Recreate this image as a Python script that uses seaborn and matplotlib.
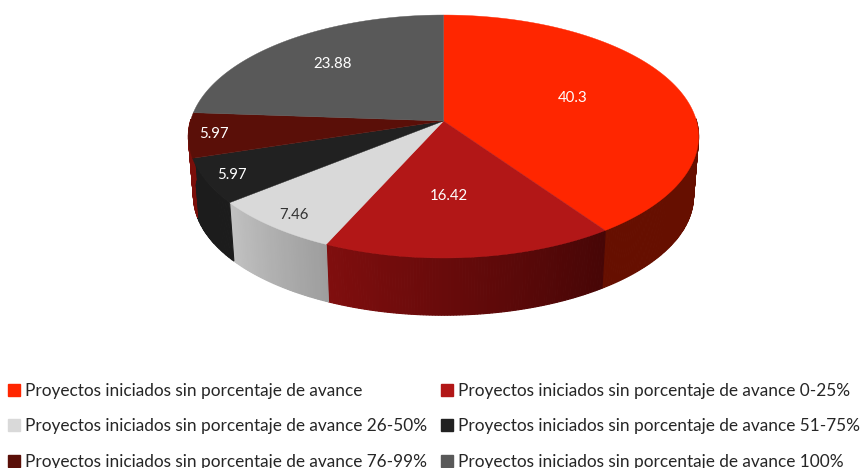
import numpy as np
import matplotlib
matplotlib.use("Agg")
import matplotlib.pyplot as plt
from matplotlib.patches import Patch
import seaborn as sns

labels = ["Proyectos iniciados sin porcentaje de avance",
          "Proyectos iniciados sin porcentaje de avance 0-25%",
          "Proyectos iniciados sin porcentaje de avance 26-50%",
          "Proyectos iniciados sin porcentaje de avance 51-75%",
          "Proyectos iniciados sin porcentaje de avance 76-99%",
          "Proyectos iniciados sin porcentaje de avance 100%"]
values = [40.3, 16.42, 7.46, 5.97, 5.97, 23.88]

top_colors = ["#FF2600", "#B21717", "#D9D9D9", "#212121", "#5A0F08", "#595959"]
wall_start = ["#660F00", "#800E0E", "#C2C2C2", "#1C1C1C", "#7A0F0A", "#3A3A3A"]
wall_end = ["#660F00", "#470606", "#9E9E9E", "#1C1C1C", "#7A0F0A", "#3A3A3A"]
label_colors = ["white", "white", "#333333", "white", "white", "white"]
label_px = [(573, 98), (449, 196), (294, 215), (232, 175), (214, 134), (333, 64)]

sns.set_theme(style="white")
plt.rcParams["font.family"] = ["Lato", "DejaVu Sans"]

fig = plt.figure(figsize=(8.62, 4.68), dpi=100)
ax = fig.add_axes([0, 0, 1, 1])
ax.set_xlim(0, 862)
ax.set_ylim(468, 0)
ax.axis("off")


def project(theta, r=1.0, y0=121.0, scale=1.0):
    u, v = r * np.sin(theta), r * np.cos(theta)
    d = 1 + 0.1276 * v
    return 443.5 + scale * 253 * u / d, y0 - scale * 119.5 * v / d


def mix(a, b, t):
    a, b = np.array(matplotlib.colors.to_rgb(a)), np.array(matplotlib.colors.to_rgb(b))
    return a + (b - a) * t


edges = np.radians(np.cumsum([0] + values) * 3.6)
BOTTOM = dict(y0=181.0, scale=0.98)

# side walls, near half only, in overlapping strips so the silhouette stays tangent
for i in sorted(range(len(values)), key=lambda k: -np.cos((edges[k] + edges[k + 1]) / 2)):
    cuts = np.linspace(edges[i], edges[i + 1], max(int(values[i] * 6), 4))
    for a, b in zip(cuts[:-1], cuts[1:]):
        if np.cos((a + b) / 2) > 0.02:
            continue
        t = (a - edges[i]) / (edges[i + 1] - edges[i])
        xa, ya = project(a)
        xb, yb = project(b)
        xc, yc = project(b, **BOTTOM)
        xd, yd = project(a, **BOTTOM)
        ax.fill([xa, xb, xc, xd], [ya, yb, yc, yd], color=mix(wall_end[i], wall_start[i], t),
                lw=0.8, zorder=2 + 0.001 * i)

# top face
for i in range(len(values)):
    th = np.linspace(edges[i], edges[i + 1], 120)
    x, y = project(th)
    ax.fill(np.r_[443.5, x], np.r_[121, y], color=top_colors[i], lw=0.3, zorder=3)
    ax.text(*label_px[i], f"{values[i]:g}", color=label_colors[i], fontsize=10.8,
            ha="center", va="center", zorder=4)

order = [0, 2, 4, 1, 3, 5]
handles = [Patch(color=top_colors[i], label=labels[i]) for i in order]
ax.legend(handles=handles, ncol=2, loc="upper left", bbox_to_anchor=(8 / 862, 1 - 383 / 468),
          bbox_transform=fig.transFigure, frameon=False, fontsize=12.42, borderaxespad=0,
          borderpad=0, handlelength=0.68, handleheight=0.68, handletextpad=0.3,
          labelspacing=1.12, columnspacing=0.8, labelcolor="#262626")

fig.savefig("out.png", dpi=100)
